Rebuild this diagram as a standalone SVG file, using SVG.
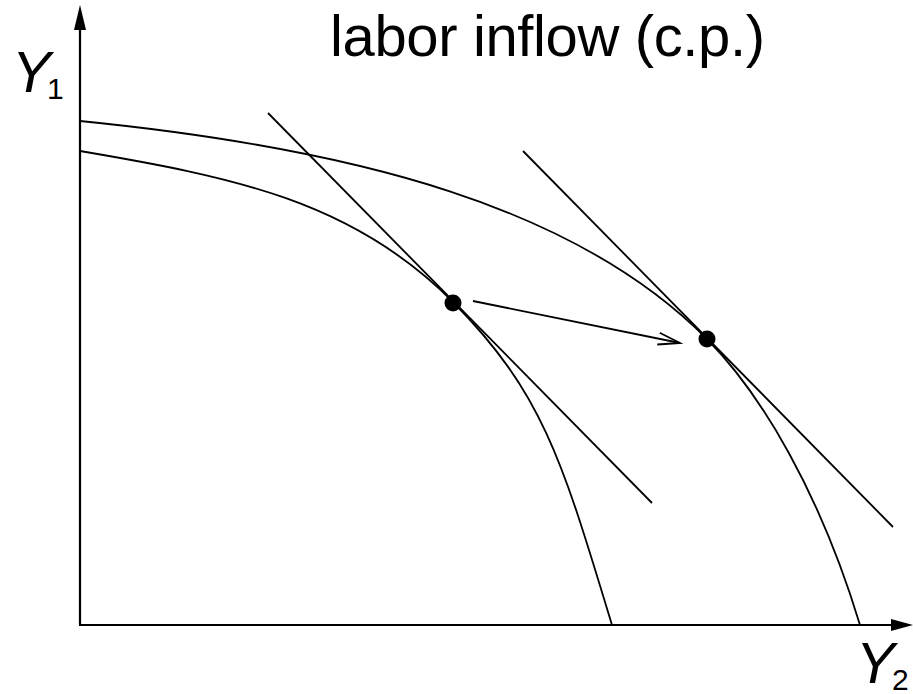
<svg xmlns="http://www.w3.org/2000/svg" width="913" height="694" viewBox="0 0 913 694">
<style>
.ax{stroke:#000;stroke-width:2.2;fill:none}
.cv{stroke:#000;stroke-width:1.8;fill:none}
.t{font-family:"Liberation Sans","DejaVu Sans",sans-serif;fill:#000}
.it{font-style:italic}
</style>
<defs>
<marker id="open" markerUnits="userSpaceOnUse" markerWidth="30" markerHeight="20" refX="22" refY="10" orient="auto" viewBox="0 0 30 20">
<path d="M0,4 L22,10 L0,16" fill="none" stroke="#000" stroke-width="1.8"/>
</marker>
</defs>
<rect width="913" height="694" fill="#fff"/>
<g id="axes">
<line class="ax" x1="80" y1="625" x2="80" y2="26"/>
<polygon points="80,5 74,30 86,30" fill="#000"/>
<line class="ax" x1="79" y1="625" x2="895" y2="625"/>
<polygon points="913,625 891,619 891,631" fill="#000"/>
</g>
<g id="title"><text class="t" x="330" y="56" font-size="58" textLength="435" lengthAdjust="spacing">labor inflow (c.p.)</text></g>
<g id="label-y1"><text class="t it" x="12" y="92" font-size="58">Y</text><text class="t" x="47" y="99" font-size="30">1</text></g>
<g id="label-y2"><text class="t it" x="856" y="683" font-size="58">Y</text><text class="t" x="892" y="690" font-size="30">2</text></g>
<g id="ppf-inner"><path class="cv" d="M80,151 C230,176.5 353,200.4 453,302 C543,393.4 562,460 612,625"/></g>
<g id="ppf-outer"><path class="cv" d="M80,121 C360,149 577,207.9 707,339 C762,394.9 820,493 860,625"/></g>
<g id="tangents">
<line class="cv" x1="268" y1="113" x2="652" y2="503"/>
<line class="cv" x1="523" y1="151" x2="893" y2="527"/>
</g>
<g id="point-a"><circle cx="453" cy="303" r="8.5" fill="#000"/></g>
<g id="point-b"><circle cx="707" cy="339" r="8.5" fill="#000"/></g>
<g id="connectors">
<line class="cv" x1="473" y1="301" x2="680" y2="343" marker-end="url(#open)"/>
</g>
</svg>
